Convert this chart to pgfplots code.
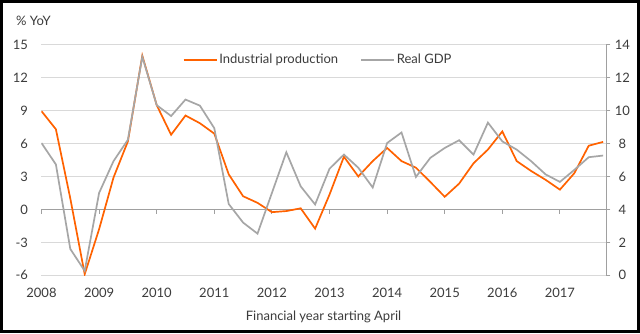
\documentclass[border=0pt]{standalone}
\usepackage{fontspec}
\setmainfont{Lato}
\usepackage{pgfplots}
\usepackage{pgfplotstable}
\pgfplotsset{compat=1.18}
\definecolor{ingorange}{HTML}{FF6200}
\definecolor{gdpgray}{HTML}{A6A6A6}
\definecolor{gridgray}{HTML}{D9D9D9}
\definecolor{axgray}{HTML}{A0A0A0}
\definecolor{txt}{HTML}{3C3C3C}

\pgfplotstableread{
x ip gdp
2008.00 8.95 8.03
2008.25 7.30 6.73
2008.50 1.00 1.60
2008.75 -5.90 0.27
2009.00 -1.80 5.00
2009.25 2.90 6.93
2009.50 6.20 8.23
2009.75 14.00 13.27
2010.00 9.50 10.33
2010.25 6.80 9.67
2010.50 8.55 10.67
2010.75 7.85 10.30
2011.00 6.90 8.93
2011.25 3.20 4.33
2011.50 1.20 3.20
2011.75 0.60 2.53
2012.00 -0.25 5.00
2012.25 -0.15 7.47
2012.50 0.10 5.40
2012.75 -1.75 4.30
2013.00 1.35 6.47
2013.25 4.80 7.33
2013.50 3.00 6.53
2013.75 4.40 5.33
2014.00 5.60 8.03
2014.25 4.40 8.67
2014.50 3.80 5.97
2014.75 2.50 7.13
2015.00 1.15 7.73
2015.25 2.35 8.20
2015.50 4.20 7.33
2015.75 5.45 9.27
2016.00 7.10 8.13
2016.25 4.40 7.63
2016.50 3.50 6.93
2016.75 2.70 6.13
2017.00 1.80 5.67
2017.25 3.30 6.40
2017.50 5.80 7.17
2017.75 6.15 7.27
}\datatable

\pgfplotsset{
  base/.style={
    at={(41.5pt,57.7pt)}, anchor=south west,
    scale only axis, width=564.5pt, height=230.6pt,
    xmin=2008, xmax=2017.8,
    every tick label/.append style={font=\fontsize{13}{15}\selectfont, text=txt},
    /pgf/number format/assume math mode=true,
    /pgf/number format/1000 sep={},
  }
}

\begin{document}
\begin{tikzpicture}[x=1pt,y=1pt]
\useasboundingbox (0,0) rectangle (640,333);
\fill[white] (0,0) rectangle (640,333);

% A: grid, left labels, year labels
\begin{axis}[base,
  ymin=-6, ymax=15,
  ytick={-6,-3,0,3,6,9,12,15},
  ymajorgrids, grid style={gridgray, line width=1pt},
  axis line style={draw=none}, tick style={draw=none},
  xtick={2008,2009,2010,2011,2012,2013,2014,2015,2016,2017},
  xticklabels={2008,2009,2010,2011,2012,2013,2014,2015,2016,2017},
  xticklabel style={yshift=-9pt},
  yticklabel style={xshift=-10pt},
]
\end{axis}

% B: zero line with year ticks
\begin{axis}[base,
  ymin=-6, ymax=15,
  axis x line=middle, axis y line=none,
  axis line style={axgray, line width=1pt, -},
  xtick={2008,2009,2010,2011,2012,2013,2014,2015,2016,2017},
  xticklabels={},
  xtick align=outside,
  major tick length=4.5pt,
  xtick style={axgray, line width=1pt},
  ytick=\empty,
]
\end{axis}

% C: industrial production
\begin{axis}[base,
  ymin=-6, ymax=15,
  hide axis,
]
\addplot[ingorange, line width=1.7pt] table[x=x, y=ip] {\datatable};
\end{axis}

% D: real GDP on right axis
\begin{axis}[base,
  ymin=0, ymax=14,
  axis y line*=right, axis x line=none,
  axis line style={axgray, line width=1pt, -},
  ytick={0,2,4,6,8,10,12,14},
  ytick align=outside,
  major tick length=4.5pt,
  ytick style={axgray, line width=1pt},
  yticklabel style={anchor=center, xshift=12pt},
  xtick=\empty,
  legend style={draw=none, fill=none, at={(0.49,0.934)}, anchor=center,
    font=\fontsize{13}{15}\selectfont, text=txt,
    /tikz/every even column/.append style={column sep=20pt}},
  legend columns=2,
  legend image code/.code={\draw[#1] (0pt,0pt) -- (33pt,0pt);},
]
\addlegendimage{ingorange, line width=1.7pt}
\addlegendentry{Industrial production}
\addplot[gdpgray, line width=1.7pt] table[x=x, y=gdp] {\datatable};
\addlegendentry{Real GDP}
\end{axis}

\node[anchor=west, text=txt, font=\fontsize{13}{15}\selectfont, inner sep=0pt] at (16,312) {\% YoY};
\node[anchor=center, text=txt, font=\fontsize{13}{15}\selectfont, inner sep=0pt] at (323.5,16.5) {Financial year starting April};

\draw[black, line width=3pt] (1.5,1.5) rectangle (638.5,331.5);
\end{tikzpicture}
\end{document}
